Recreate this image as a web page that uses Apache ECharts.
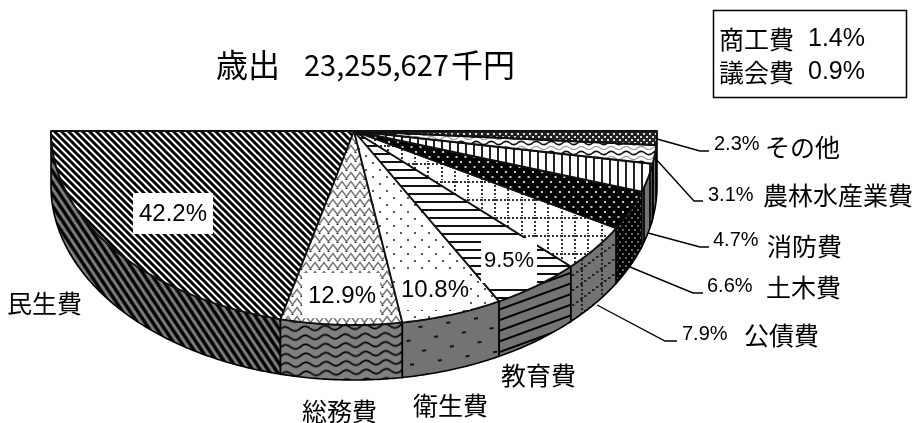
<!DOCTYPE html>
<html>
<head>
<meta charset="utf-8">
<script src="https://cdn.jsdelivr.net/npm/echarts@6/dist/echarts.min.js"></script>
<style>html,body{margin:0;background:#fff}#main{width:916px;height:423px}</style>
</head>
<body>
<div id="main"></div>
<script>
// 歳出の内訳 (%), 左から時計と逆回りに半円へ並べる
var categories = ['民生費', '総務費', '衛生費', '教育費', '公債費', '土木費', '消防費', '農林水産業費', 'その他'];
var shares = [42.2, 12.9, 10.8, 9.5, 7.9, 6.6, 4.7, 3.1, 2.3];
var boxCategories = ['商工費', '議会費'];
var boxShares = [1.4, 0.9];
var titleParts = ['歳出', '23,255,627', '千円'];

var JP = '"Noto Sans CJK JP"';
var LAT = '"Liberation Sans"';
var WALL = 0.2835; // 側面の厚み(y軸単位)

function tile(w, h, bg, draw) {
    var c = document.createElement('canvas');
    c.width = w; c.height = h;
    var g = c.getContext('2d');
    g.fillStyle = bg;
    g.fillRect(0, 0, w, h);
    draw(g);
    return c;
}
function diag(bg, fg, p, lw) {
    return tile(p, p, bg, function (g) {
        g.strokeStyle = fg; g.lineWidth = lw;
        for (var i = -p; i <= p; i += p) {
            g.beginPath(); g.moveTo(i - 1, -1); g.lineTo(i + p + 1, p + 1); g.stroke();
        }
    });
}
function hlines(bg, fg, p, lw) {
    return tile(4, p, bg, function (g) { g.fillStyle = fg; g.fillRect(0, 1, 4, lw); });
}
function vlines(bg, fg, p, lw) {
    return tile(p, 4, bg, function (g) { g.fillStyle = fg; g.fillRect(1, 0, lw, 4); });
}
function zigzag(bg, fg, w, h, amp, lw) {
    return tile(w, h, bg, function (g) {
        g.strokeStyle = fg; g.lineWidth = lw;
        g.beginPath();
        g.moveTo(-w / 2, h / 2 + amp); g.lineTo(0, h / 2 - amp); g.lineTo(w / 2, h / 2 + amp);
        g.lineTo(w, h / 2 - amp); g.lineTo(w * 1.5, h / 2 + amp);
        g.stroke();
        g.fillStyle = '#222';
        g.fillRect(w / 2 - 1, h - 1, 2, 1);
    });
}
function wavePath(g, w, cy, amp) {
    g.beginPath();
    for (var x = 0; x <= w; x++) {
        var y = cy + amp * Math.sin(x / w * Math.PI * 2);
        if (x === 0) g.moveTo(x, y); else g.lineTo(x, y);
    }
    g.stroke();
}
function wave(bg, fg, w, h, amp, lw) {
    return tile(w, h, bg, function (g) {
        g.strokeStyle = fg; g.lineWidth = lw;
        wavePath(g, w, h / 2, amp);
    });
}
function wave2(bg, w, h, amp) {
    return tile(w, h, bg, function (g) {
        g.strokeStyle = '#111'; g.lineWidth = 1.6;
        wavePath(g, w, h * 0.3, amp);
        g.strokeStyle = '#999'; g.lineWidth = 1.2;
        wavePath(g, w, h * 0.8, amp);
    });
}
function dots(bg, fg, w, h, dw, dh) {
    return tile(w, h, bg, function (g) {
        g.fillStyle = fg;
        g.fillRect(1, 1, dw, dh);
        g.fillRect(1 + w / 2, 1 + h / 2, dw, dh);
    });
}
function dotGrid(bg, fg) {
    return tile(40, 18, bg, function (g) {
        g.fillStyle = fg;
        var x, y;
        for (x = 0; x < 40; x += 4) g.fillRect(x, 1, 2, 2);
        [1, 14, 27].forEach(function (vx) {
            for (y = 0; y < 18; y += 4) g.fillRect(vx, y + 1, 2, 2);
        });
    });
}
// 側面用: 縦の点線と右上がりの点線
function dotSlant(bg, fg) {
    return tile(20, 15, bg, function (g) {
        g.fillStyle = fg;
        for (var y = 0; y < 15; y += 4) g.fillRect(1, y, 2, 2);
        for (var i = 0; i < 5; i++) g.fillRect(i * 4, 15 - i * 3 - 2, 2.5, 2);
    });
}

var GREY = '#737373';
var topFills = [
    { image: diag('#fff', '#000', 7, 3), repeat: 'repeat' },
    { image: zigzag('#fff', '#777', 9, 9, 3, 1.4), repeat: 'repeat' },
    { image: dots('#fff', '#555', 14, 14, 2, 2), repeat: 'repeat' },
    { image: hlines('#fff', '#111', 8, 2), repeat: 'repeat' },
    { image: dotGrid('#fff', '#333'), repeat: 'repeat' },
    { image: dots('#000', '#ccc', 9, 10, 2, 2), repeat: 'repeat' },
    { image: vlines('#fff', '#222', 8, 2), repeat: 'repeat' },
    { image: wave2('#fff', 15, 10, 1.6), repeat: 'repeat' },
    { image: dots('#222', '#ddd', 6, 6, 2, 2), repeat: 'repeat' }
];
var wallFills = [
    { image: diag('#808080', '#000', 9, 3.4), repeat: 'repeat', rotation: 0.2 },
    { image: wave('#808080', '#000', 20, 9, 2.2, 1.7), repeat: 'repeat', rotation: -0.03 },
    { image: dots(GREY, '#111', 28, 24, 4, 2), repeat: 'repeat', rotation: -0.15 },
    { image: hlines(GREY, '#000', 10, 2), repeat: 'repeat', rotation: -0.35 },
    { image: dotSlant(GREY, '#222'), repeat: 'repeat' },
    { image: dots('#000', '#666', 6, 8, 2, 2), repeat: 'repeat' },
    { image: vlines(GREY, '#111', 6, 2), repeat: 'repeat' },
    { image: vlines(GREY, '#111', 4, 1), repeat: 'repeat' },
    { image: vlines(GREY, '#111', 4, 1), repeat: 'repeat' }
];

// 累積%を [開始, 終了] に
var spans = [];
shares.reduce(function (acc, v) { spans.push([acc, acc + v]); return acc + v; }, 0);

function point(p, drop) {
    var t = Math.PI * (1 - p / 100);
    return [Math.cos(t), -Math.sin(t) - (drop || 0)];
}
function arc(from, to, drop) {
    var out = [];
    var n = Math.max(2, Math.ceil(Math.abs(to - from) * 4));
    for (var i = 0; i <= n; i++) out.push(point(from + (to - from) * i / n, drop));
    return out;
}

function renderWall(params, api) {
    var a = api.value(0), b = api.value(1);
    var pts = arc(a, b, 0).concat(arc(b, a, WALL)).map(api.coord);
    return {
        type: 'polygon', shape: { points: pts },
        style: { fill: wallFills[params.dataIndex], stroke: '#000', lineWidth: 1.6 }
    };
}
function renderTop(params, api) {
    var a = api.value(0), b = api.value(1);
    var pts = [[0, 0]].concat(arc(a, b, 0)).map(api.coord);
    return {
        type: 'polygon', shape: { points: pts },
        style: { fill: topFills[params.dataIndex], stroke: '#111', lineWidth: 1.8, lineJoin: 'round' }
    };
}

function text(x, y, s, size, font, align) {
    return {
        type: 'text', x: x, y: y, z: 20,
        style: { text: s, fontSize: size, fontFamily: font, fill: '#000', align: align || 'left', verticalAlign: 'middle' }
    };
}
function leader(pts) {
    return { type: 'polyline', z: 5, shape: { points: pts }, style: { stroke: '#000', lineWidth: 1.4, fill: null } };
}
function whiteRect(x, y, w, h) {
    return { type: 'rect', z: 15, shape: { x: x, y: y, width: w, height: h }, style: { fill: '#fff' } };
}
function pct(v) { return v.toFixed(1) + '%'; }

var graphics = [
    text(216, 65, titleParts[0], 32, JP),
    text(304, 65, titleParts[1], 29, JP),
    text(451, 65, titleParts[2], 32, JP),
    { type: 'rect', z: 5, shape: { x: 713.5, y: 10.5, width: 193, height: 87 }, style: { fill: '#fff', stroke: '#000', lineWidth: 1.5 } },
    text(719, 39, boxCategories[0], 25, JP),
    text(808, 39, pct(boxShares[0]), 25, LAT),
    text(719, 72, boxCategories[1], 25, JP),
    text(808, 72, pct(boxShares[1]), 25, LAT),

    whiteRect(133, 193, 80, 41),
    whiteRect(302, 273, 78, 45),
    whiteRect(400, 270, 70, 40),
    whiteRect(481, 238, 56, 45),
    text(173, 214, pct(shares[0]), 24, LAT, 'center'),
    text(342, 296, pct(shares[1]), 24, LAT, 'center'),
    text(435, 290, pct(shares[2]), 24, LAT, 'center'),
    text(509, 261, pct(shares[3]), 22, LAT, 'center'),

    text(7, 303, categories[0], 25, JP),
    text(302, 411, categories[1], 25, JP),
    text(413, 405, categories[2], 25, JP),
    text(501, 375, categories[3], 25, JP),

    leader([[597, 305], [665, 341], [677, 341]]),
    text(682, 334, pct(shares[4]), 20, LAT),
    text(744, 335, categories[4], 25, JP),
    leader([[630, 267], [693, 293], [703, 293]]),
    text(707, 286, pct(shares[5]), 20, LAT),
    text(766, 287, categories[5], 25, JP),
    leader([[648, 233], [700, 247], [709, 247]]),
    text(713, 240, pct(shares[6]), 20, LAT),
    text(767, 246, categories[6], 25, JP),
    leader([[655, 158], [694, 201], [703, 201]]),
    text(708, 195, pct(shares[7]), 20, LAT),
    text(763, 195, categories[7], 25, JP),
    leader([[657, 139], [700, 151], [709, 151]]),
    text(714, 144, pct(shares[8]), 20, LAT),
    text(765, 147, categories[8], 25, JP)
];

var chart = echarts.init(document.getElementById('main'), null, { renderer: 'canvas' });
chart.setOption({
    animation: false,
    backgroundColor: '#fff',
    grid: { left: 51, width: 606, top: 131, height: 291, containLabel: false },
    // 単位円を楕円に写す軸
    xAxis: { type: 'value', min: -1, max: 1, show: false },
    yAxis: { type: 'value', min: -1.5, max: 0, show: false },
    series: [
        { type: 'custom', renderItem: renderWall, data: spans, clip: false, silent: true, z: 2 },
        { type: 'custom', renderItem: renderTop, data: spans, clip: false, silent: true, z: 3 }
    ],
    graphic: graphics
});
</script>
</body>
</html>
